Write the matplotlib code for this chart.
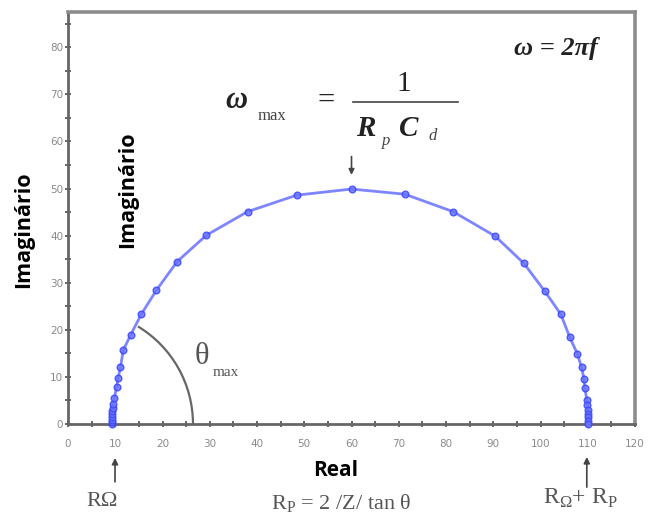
import matplotlib
matplotlib.use("Agg")
import matplotlib.pyplot as plt
from matplotlib.patches import Arc
from matplotlib.lines import Line2D
from matplotlib.ticker import MultipleLocator

# Nyquist data: real vs imaginary impedance
z_real = [9.3, 9.3, 9.3, 9.35, 9.35, 9.4, 9.45, 9.5, 9.8, 10.3, 10.6, 11.1,
          11.7, 13.3, 15.5, 18.7, 23.1, 29.3, 38.0, 48.4, 60.0, 71.3, 81.5,
          90.4, 96.5, 100.9, 104.3, 106.2, 107.8, 108.7, 109.2, 109.4, 109.8,
          109.9, 110.0, 110.0, 110.0, 110.0, 110.0]
z_imag = [0.0, 0.4, 0.9, 1.5, 2.1, 2.8, 3.5, 4.3, 5.5, 7.9, 9.8, 12.0,
          15.7, 19.0, 23.3, 28.4, 34.5, 40.1, 45.1, 48.6, 49.9, 48.8, 45.1,
          39.9, 34.1, 28.2, 23.3, 18.4, 14.9, 12.0, 9.6, 7.6, 5.1,
          4.0, 3.0, 2.2, 1.4, 0.7, 0.0]

x_ticks = [0, 10, 20, 30, 40, 50, 60, 70, 80, 90, 100, 110, 120]
y_ticks = [0, 10, 20, 30, 40, 50, 60, 70, 80]

R_omega = 9.95        # high-frequency intercept
R_total = 109.8       # low-frequency intercept
peak_x, peak_y = 60.0, 49.9

W, H = 656, 516
fig = plt.figure(figsize=(W / 100, H / 100), dpi=100)


def fp(x, y):
    """pixel position (from top-left) -> figure fraction"""
    return x / W, 1 - y / H


ax = fig.add_axes([68 / W, (H - 424) / H, 567 / W, 412 / H])
ax.set_xlim(0, 120)
ax.set_ylim(0, 87.5)

ax.plot(z_real, z_imag, color="#6870ff", lw=2.0, alpha=0.85, zorder=3,
        clip_on=False)
ax.plot(z_real, z_imag, ls="none", marker="o", ms=4.8, mfc="#6a74ff",
        mec="#3a46ff", mew=1.0, alpha=0.85, zorder=4, clip_on=False)

# frame
for side in ("left", "bottom"):
    ax.spines[side].set_color("#666666")
    ax.spines[side].set_linewidth(2.0)
for side in ("top", "right"):
    ax.spines[side].set_color("#8c8c8c")
    ax.spines[side].set_linewidth(2.6)

ax.set_xticks(x_ticks)
ax.set_yticks(y_ticks)
ax.xaxis.set_minor_locator(MultipleLocator(5))
ax.yaxis.set_minor_locator(MultipleLocator(5))
ax.tick_params(which="both", direction="inout", color="#666666", width=1.4)
ax.tick_params(which="major", length=5)
ax.tick_params(which="minor", length=4)
ax.tick_params(axis="x", which="major", pad=8, labelsize=7.5,
               labelcolor="#8a8a8a")
ax.tick_params(axis="y", which="major", pad=1, labelsize=7.5,
               labelcolor="#8a8a8a")
ax.tick_params(top=False, right=False, which="both")

# angle arc
ax.add_patch(Arc((2.35, 0), 2 * 24.1, 2 * 24.2, theta1=0, theta2=59,
                 color="#666666", lw=1.6, zorder=2))

# arrow at the apex
ax.annotate("", xy=(peak_x, 52.9), xytext=(peak_x, 56.8),
            arrowprops=dict(arrowstyle="-|>", color="#444444", lw=1.2,
                            mutation_scale=8, shrinkA=0, shrinkB=0))

# arrows at the intercepts (below the axis)
for xv, y0, y1 in [(R_omega, -7.2, -12.3), (R_total, -7.0, -13.4)]:
    ax.annotate("", xy=(xv, y0), xytext=(xv, y1), annotation_clip=False,
                arrowprops=dict(arrowstyle="-|>", color="#444444", lw=1.2,
                                mutation_scale=9, shrinkA=0, shrinkB=0))

sans = "Open Sans"
serif = "Liberation Serif"

fig.text(*fp(24, 230), "Imaginário", rotation=90, ha="center", va="center",
         family=sans, weight="bold", fontsize=15.5, color="black")
fig.text(*fp(128, 190), "Imaginário", rotation=90, ha="center", va="center",
         family=sans, weight="bold", fontsize=15.5, color="black")
fig.text(*fp(336, 470), "Real", ha="center", va="center",
         family=sans, weight="bold", fontsize=15, color="black")

# theta_max label
fig.text(*fp(202, 356), "θ", ha="center", va="center", family=serif,
         fontsize=22, color="#555555")
fig.text(*fp(226, 372), "max", ha="center", va="center", family=serif,
         fontsize=11, color="#555555")

# bottom labels
fig.text(*fp(102, 502), "RΩ", ha="center", va="center", family=serif,
         fontsize=16, color="#555555")
fig.text(*fp(580, 498), r"R$_\mathregular{\Omega}$+ R$_\mathregular{P}$",
         ha="center", va="center", family=serif, fontsize=17,
         color="#555555")
fig.text(*fp(341, 504), r"R$_\mathregular{P}$ = 2 /Z/ tan θ", ha="center",
         va="center", family=serif, fontsize=16, color="#555555")

# omega = 2 pi f
fig.text(*fp(556, 49), "ω = 2πf", ha="center", va="center", family=serif,
         weight="bold", style="italic", fontsize=19, color="#222222")

# omega_max = 1 / (Rp Cd)
fc = "#222222"
fig.text(*fp(236, 101), "ω", ha="center", va="center", family=serif,
         weight="bold", style="italic", fontsize=22, color=fc)
fig.text(*fp(272, 116), "max", ha="center", va="center", family=serif,
         fontsize=12, color="#444444")
fig.text(*fp(326, 101), "=", ha="center", va="center", family=serif,
         fontsize=22, color=fc)
fig.text(*fp(404, 84), "1", ha="center", va="center", family=serif,
         fontsize=21, color=fc)
x0, yl = fp(353, 102)
x1, _ = fp(458, 102)
fig.add_artist(Line2D([x0, x1], [yl, yl], color="#444444", lw=1.2))
fig.text(*fp(366, 129), "R", ha="center", va="center", family=serif,
         weight="bold", style="italic", fontsize=21, color=fc)
fig.text(*fp(386, 141), "p", ha="center", va="center", family=serif,
         style="italic", fontsize=12, color="#444444")
fig.text(*fp(409, 129), "C", ha="center", va="center", family=serif,
         weight="bold", style="italic", fontsize=21, color=fc)
fig.text(*fp(433, 136), "d", ha="center", va="center", family=serif,
         style="italic", fontsize=12, color="#444444")

fig.savefig("out.png", dpi=100)
